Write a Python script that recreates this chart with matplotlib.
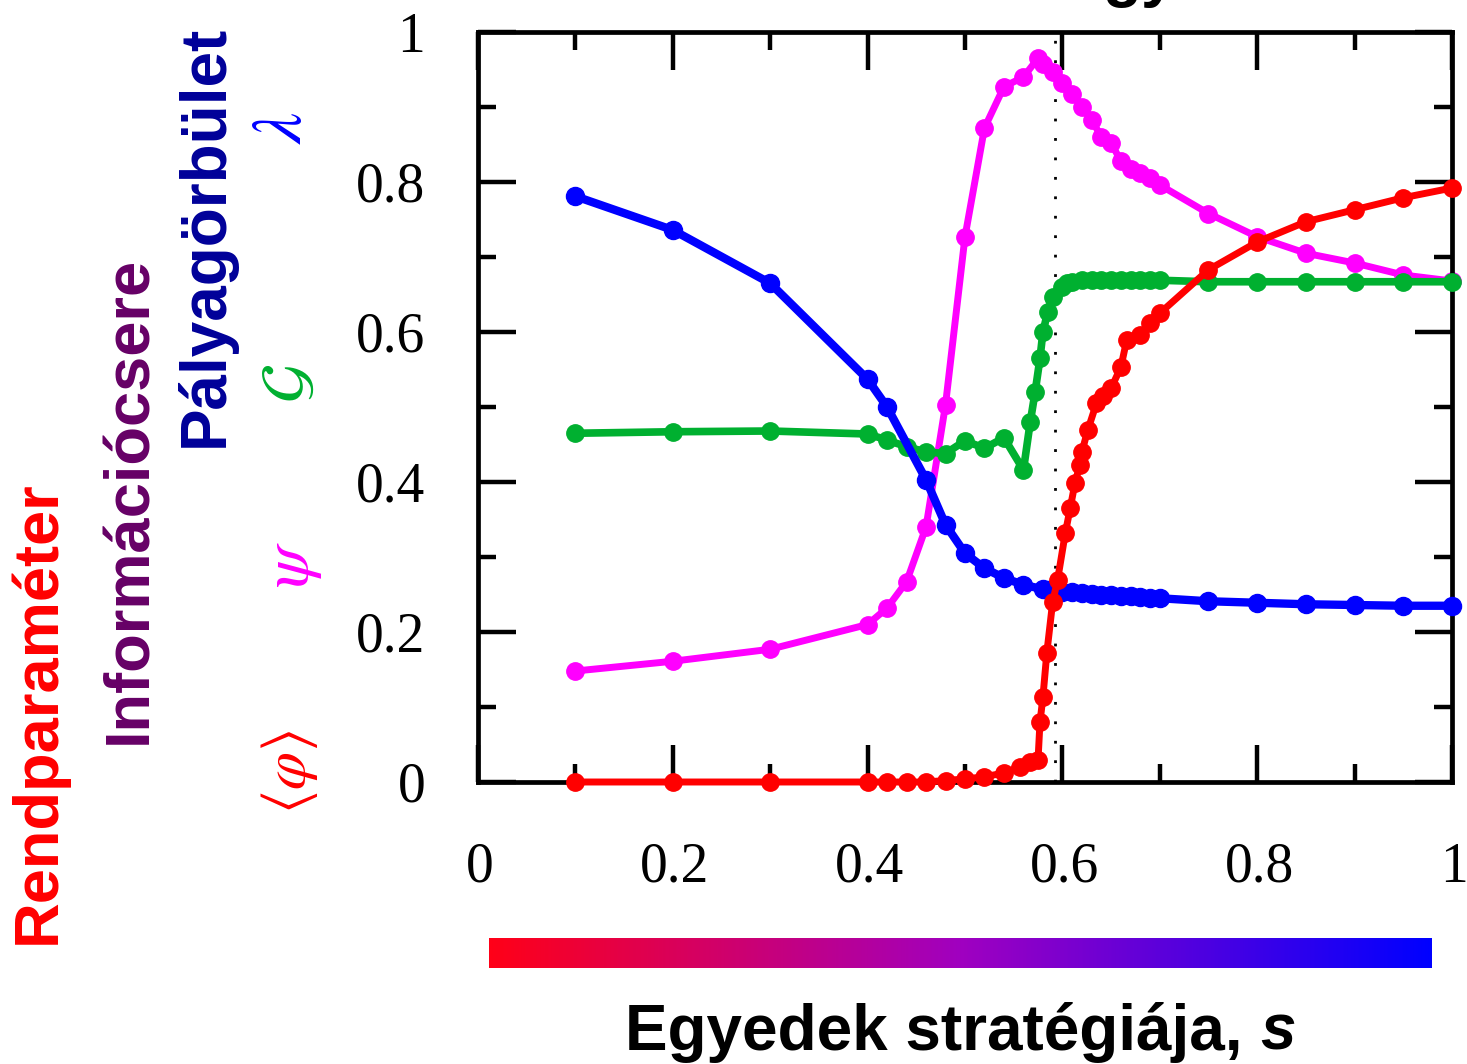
import numpy as np
import matplotlib
matplotlib.use("Agg")
import matplotlib.pyplot as plt
import matplotlib.transforms as mtransforms
from matplotlib.colors import LinearSegmentedColormap
from matplotlib.ticker import MultipleLocator

plt.rcParams['font.family'] = ['Liberation Serif', 'DejaVu Serif']
plt.rcParams['mathtext.fontset'] = 'stix'

# --- data -----------------------------------------------------------------
# trajectory curvature  lambda
s_lam = [0.10, 0.20, 0.30, 0.40, 0.42, 0.46, 0.48, 0.50, 0.52, 0.54, 0.56, 0.58,
         0.585, 0.59, 0.595, 0.60, 0.61, 0.62, 0.63, 0.64, 0.65, 0.66, 0.67, 0.68,
         0.69, 0.70, 0.75, 0.80, 0.85, 0.90, 0.95, 1.00]
lam = [0.781, 0.736, 0.665, 0.537, 0.500, 0.403, 0.343, 0.305, 0.285, 0.272, 0.263, 0.257,
       0.256, 0.255, 0.255, 0.254, 0.253, 0.252, 0.251, 0.250, 0.249, 0.248, 0.248, 0.247,
       0.246, 0.245, 0.241, 0.239, 0.237, 0.236, 0.235, 0.235]

# information exchange  psi
s_psi = [0.10, 0.20, 0.30, 0.40, 0.42, 0.44, 0.46, 0.48, 0.50, 0.52, 0.54, 0.56, 0.575,
         0.58, 0.59, 0.60, 0.61, 0.62, 0.63, 0.64, 0.65, 0.66, 0.67, 0.68, 0.69, 0.70,
         0.75, 0.80, 0.85, 0.90, 0.95, 1.00]
psi = [0.148, 0.161, 0.177, 0.210, 0.232, 0.267, 0.340, 0.503, 0.727, 0.872, 0.927, 0.940, 0.965,
       0.958, 0.947, 0.932, 0.918, 0.900, 0.883, 0.860, 0.852, 0.828, 0.818, 0.812, 0.805, 0.796,
       0.758, 0.727, 0.705, 0.692, 0.676, 0.668]

# G
s_g = [0.10, 0.20, 0.30, 0.40, 0.42, 0.44, 0.46, 0.48, 0.50, 0.52, 0.54, 0.56, 0.567,
       0.572, 0.577, 0.58, 0.585, 0.59, 0.60, 0.605, 0.61, 0.62, 0.63, 0.64, 0.65, 0.66,
       0.67, 0.68, 0.69, 0.70, 0.75, 0.80, 0.85, 0.90, 0.95, 1.00]
g_val = [0.465, 0.467, 0.468, 0.464, 0.456, 0.447, 0.440, 0.438, 0.455, 0.445, 0.459, 0.416, 0.480,
         0.520, 0.565, 0.600, 0.627, 0.647, 0.660, 0.665, 0.667, 0.669, 0.669, 0.669, 0.669, 0.669,
         0.669, 0.669, 0.669, 0.669, 0.667, 0.667, 0.667, 0.667, 0.667, 0.667]

# order parameter  <phi>
s_phi = [0.10, 0.20, 0.30, 0.40, 0.42, 0.44, 0.46, 0.48, 0.50, 0.52, 0.54, 0.556, 0.567,
         0.575, 0.577, 0.58, 0.584, 0.59, 0.595, 0.603, 0.608, 0.613, 0.618, 0.62, 0.626,
         0.635, 0.642, 0.65, 0.66, 0.666, 0.68, 0.69, 0.70, 0.75, 0.80, 0.85, 0.90, 0.95, 1.00]
phi = [0.0, 0.0, 0.0, 0.0, 0.0, 0.0, 0.0, 0.002, 0.004, 0.007, 0.012, 0.020, 0.027,
       0.030, 0.080, 0.113, 0.172, 0.240, 0.269, 0.332, 0.365, 0.399, 0.423, 0.440, 0.469,
       0.505, 0.515, 0.525, 0.553, 0.589, 0.596, 0.612, 0.625, 0.683, 0.720, 0.747, 0.763, 0.779, 0.792]

s_critical = 0.592

x_ticks = [0, 0.2, 0.4, 0.6, 0.8, 1]
x_ticklabels = ['0', '0.2', '0.4', '0.6', '0.8', '1']
y_ticks = [0, 0.2, 0.4, 0.6, 0.8, 1]
y_ticklabels = ['0', '0.2', '0.4', '0.6', '0.8', '1']

RED = '#ff0000'
MAGENTA = '#ff00ff'
GREEN = '#00b030'
BLUE = '#0000ff'

# --- figure -----------------------------------------------------------------
fig = plt.figure(figsize=(14.67, 10.64), dpi=100)
W, H = 1467, 1064
ax = fig.add_axes([478 / W, 1 - 782 / H, (1452 - 478) / W, (782 - 32) / H])

ax.axvline(s_critical, color='black', lw=2.0, ls=(0, (1, 6)), zorder=1)

ax.plot(s_psi, psi, '-o', color=MAGENTA, lw=5.0, ms=12.5, zorder=2, clip_on=False)
ax.plot(s_g, g_val, '-o', color=GREEN, lw=5.5, ms=12.5, zorder=3, clip_on=False)
ax.plot(s_lam, lam, '-o', color=BLUE, lw=6.0, ms=13, zorder=4, clip_on=False)
ax.plot(s_phi, phi, '-o', color=RED, lw=5.0, ms=12.5, zorder=5, clip_on=False)

ax.set_xlim(0, 1)
ax.set_ylim(0, 1)
ax.set_xticks(x_ticks)
ax.set_xticklabels(x_ticklabels)
ax.set_yticks(y_ticks)
ax.set_yticklabels(y_ticklabels)
ax.xaxis.set_minor_locator(MultipleLocator(0.1))
ax.yaxis.set_minor_locator(MultipleLocator(0.1))
ax.tick_params(which='both', direction='in', top=True, right=True, width=3.2, color='black')
ax.tick_params(which='major', length=27)
ax.tick_params(which='minor', length=13)
ax.tick_params(axis='x', which='major', labelsize=40, pad=43)
ax.tick_params(axis='y', which='major', labelsize=40, pad=38)
for sp in ax.spines.values():
    sp.set_linewidth(3.4)

# nudge the s-axis numbers slightly to the right
shift = mtransforms.ScaledTranslation(2 / 100, 0, fig.dpi_scale_trans)
for lbl in ax.get_xticklabels():
    lbl.set_transform(lbl.get_transform() + shift)

# colour bar for the strategy axis
cax = fig.add_axes([489 / W, 1 - 968 / H, (1432 - 489) / W, 30 / H])
cmap = LinearSegmentedColormap.from_list('strategy', ['#ff0018', '#a000c0', '#0000ff'])
cax.imshow(np.linspace(0, 1, 512)[None, :], aspect='auto', cmap=cmap, extent=(0, 1, 0, 1))
cax.set_axis_off()

sans = ['Liberation Sans', 'DejaVu Sans']

# axis caption: upright bold words followed by a bold italic "s"
cap_main = fig.text(0, 1 - 1050 / H, 'Egyedek stratégiája, ', ha='left', va='baseline',
                    fontsize=46, fontweight='bold', family=sans)
cap_s = fig.text(0, 1 - 1050 / H, 's', ha='left', va='baseline',
                 fontsize=46, fontweight='bold', fontstyle='italic', family=sans)
fig.canvas.draw()
r = fig.canvas.get_renderer()
w_main = cap_main.get_window_extent(r).width
w_s = cap_s.get_window_extent(r).width
x0 = 960 - (w_main + w_s) / 2
cap_main.set_x(x0 / W)
cap_s.set_x((x0 + w_main) / W)

fig.text(38 / W, 1 - 712 / H, 'Rendparaméter', rotation=90, ha='center', va='center',
         fontsize=45.5, fontweight='bold', color='#ff0000', family=sans)
fig.text(130 / W, 1 - 500 / H, 'Információcsere', rotation=90, ha='center', va='center',
         fontsize=45.5, fontweight='bold', color='#660066', family=sans)
fig.text(205 / W, 1 - 236 / H, 'Pályagörbület', rotation=90, ha='center', va='center',
         fontsize=46, fontweight='bold', color='#000099', family=sans)

fig.text(284 / W, 1 - 128 / H, r'$\lambda$', rotation=90, ha='center', va='center',
         fontsize=50, color=BLUE)
fig.text(291 / W, 1 - 383 / H, r'$\mathcal{G}$', rotation=90, ha='center', va='center',
         fontsize=46, color=GREEN)
fig.text(293 / W, 1 - 565 / H, r'$\psi$', rotation=90, ha='center', va='center',
         fontsize=48, color=MAGENTA)
fig.text(289 / W, 1 - 772 / H, r'$\langle\varphi\rangle$', rotation=90, ha='center', va='center',
         fontsize=44, color=RED)

# heading running off the top edge
fig.text(1140 / W, 1 + 5 / H, 'gy', ha='center', va='baseline', fontsize=46,
         fontweight='bold', family=sans)

fig.savefig('out.png', dpi=100)
